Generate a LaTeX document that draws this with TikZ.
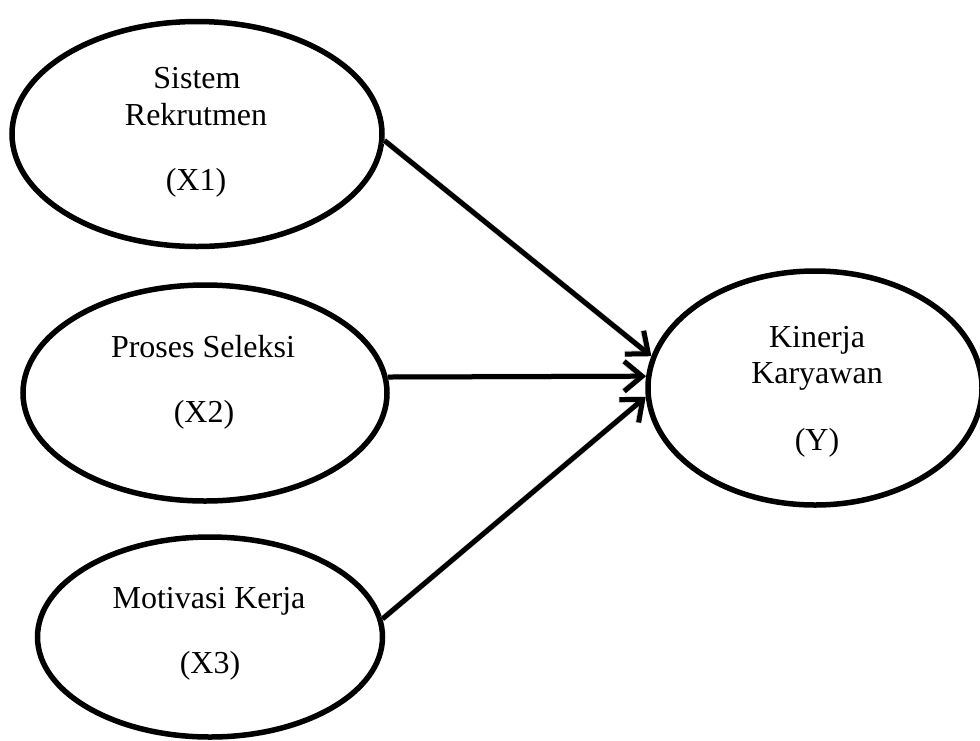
\documentclass[tikz,border=0pt]{standalone}
\usepackage{fontspec}
\setmainfont{Liberation Serif}
\usetikzlibrary{shapes.geometric,arrows.meta}
\begin{document}
\begin{tikzpicture}[x=1pt,y=-1pt,
  var/.style={draw=black,line width=5.5pt,ellipse,inner sep=0pt,fill=white},
  lbl/.style={anchor=base,font=\fontsize{32}{38}\selectfont,inner sep=0pt},
  conn/.style={line width=5pt,-{Straight Barb[length=18pt,width=30pt]}},
  shade/.style={line width=6pt,draw=black!15,-{Straight Barb[length=18pt,width=30pt]},xshift=1.5pt,yshift=-2pt}]
\useasboundingbox (0,0) rectangle (980,740);
\fill[white] (0,0) rectangle (980,740);
\node[var,minimum width=370pt,minimum height=225pt] (e1) at (197,134) {};
\node[var,minimum width=364pt,minimum height=216pt] (e2) at (205,393) {};
\node[var,minimum width=345pt,minimum height=200pt] (e3) at (210,637) {};
\node[var,minimum width=334pt,minimum height=234pt] (e4) at (815,388) {};
\node[lbl] (t1a) at (197,88) {Sistem};
\node[lbl] (t1b) at (196,125) {Rekrutmen};
\node[lbl] (t1c) at (196,190) {(X1)};
\node[lbl] (t2a) at (203,357) {Proses Seleksi};
\node[lbl] (t2b) at (204,422) {(X2)};
\node[lbl] (t3a) at (209,608) {Motivasi Kerja};
\node[lbl] (t3b) at (210,673) {(X3)};
\node[lbl] (t4a) at (817,347) {Kinerja};
\node[lbl] (t4b) at (817,383) {Karyawan};
\node[lbl] (t4c) at (817,450) {(Y)};
\draw[shade] (e1.-2) -- (e4.169);
\draw[shade] (e2.5) -- (e4.176.6);
\draw[shade] (e3.6) -- (e4.183.4);
\draw[conn] (e1.-2) -- (e4.169);
\draw[conn] (e2.5) -- (e4.176.6);
\draw[conn] (e3.6) -- (e4.183.4);
\end{tikzpicture}
\end{document}
